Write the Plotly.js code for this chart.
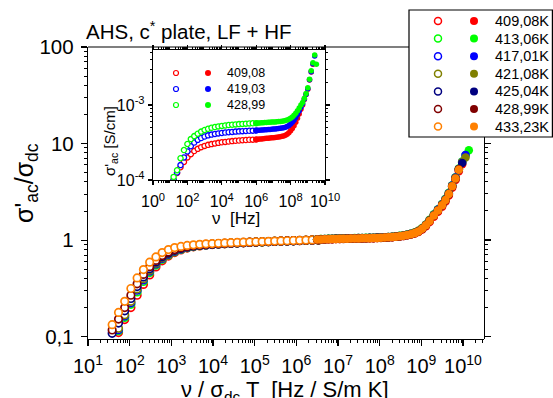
<!DOCTYPE html>
<html><head><meta charset="utf-8">
<script src="https://cdn.plot.ly/plotly-3.0.1.min.js"></script>
<style>html,body{margin:0;padding:0;background:#fff;}#plot{width:553px;height:398px;}</style>
</head><body><div id="plot"></div>
<script>
// ---------------- DATA ----------------
const mainTemps = ['409,08K','413,06K','417,01K','421,08K','425,04K','428,99K','433,23K'];
const mainColors = ['#ff0000','#00ff00','#0000ff','#808000','#000080','#800000','#ff8000'];

// main plot, low-frequency (open) part: x = nu / sigma_dc T
const mainLFx = [38,54,76,107,151,214,302,427,603,851,1200,1700,2400,3390,4790,6760,9550,13500,19100,26900,38000,53700,75900,107000,151000,214000,302000,427000,603000,851000,1.2e6,1.7e6,2.4e6,3.39e6];
const mainLF409 = [null,0.11,0.15,0.2,0.268,0.347,0.435,0.527,0.61,0.683,0.742,0.789,0.825,0.851,0.87,0.885,0.897,0.907,0.915,0.923,0.93,0.937,0.943,0.949,0.955,0.961,0.966,0.971,0.976,0.981,0.986,0.991,0.996,1.001];
const mainLF413 = [null,0.115,0.158,0.216,0.29,0.372,0.46,0.55,0.632,0.7,0.755,0.799,0.832,0.856,0.874,0.888,0.899,0.909,0.917,0.925,0.932,0.938,0.944,0.95,0.956,0.962,0.967,0.972,0.977,0.982,0.987,0.992,0.997,1.002];
const mainLF417 = [null,0.118,0.163,0.224,0.302,0.386,0.476,0.566,0.646,0.712,0.765,0.807,0.838,0.861,0.878,0.891,0.902,0.911,0.919,0.927,0.934,0.94,0.946,0.952,0.958,0.963,0.968,0.973,0.978,0.983,0.988,0.993,0.998,1.003];
const mainLF421 = [null,0.122,0.168,0.232,0.312,0.398,0.488,0.578,0.657,0.721,0.773,0.813,0.843,0.864,0.881,0.894,0.904,0.913,0.921,0.928,0.935,0.941,0.947,0.953,0.959,0.964,0.969,0.974,0.979,0.984,0.989,0.994,0.999,1.004];
const mainLF425 = [0.108,0.138,0.185,0.248,0.33,0.415,0.505,0.593,0.67,0.732,0.782,0.82,0.848,0.868,0.884,0.896,0.906,0.915,0.922,0.929,0.936,0.942,0.948,0.954,0.96,0.965,0.97,0.975,0.98,0.985,0.99,0.995,1.0,1.005];
const mainLF429 = [0.117,0.152,0.2,0.268,0.352,0.44,0.53,0.615,0.69,0.75,0.797,0.832,0.857,0.876,0.89,0.901,0.91,0.918,0.925,0.932,0.938,0.944,0.95,0.955,0.961,0.966,0.971,0.976,0.981,0.986,0.991,0.996,1.001,1.006];
const mainLF433 = [0.133,0.178,0.232,0.315,0.405,0.495,0.59,0.668,0.742,0.797,0.835,0.86,0.879,0.893,0.904,0.913,0.92,0.927,0.933,0.939,0.945,0.95,0.955,0.96,0.965,0.97,0.975,0.979,0.984,0.989,0.994,0.999,1.004,1.009];

// main plot, high-frequency (filled) part
const mainHFx = [3.16e6,3.89e6,4.79e6,5.89e6,7.24e6,8.91e6,1.10e7,1.35e7,1.66e7,2.04e7,2.51e7,3.09e7,3.80e7,4.68e7,5.75e7,7.08e7,8.71e7,1.07e8,1.32e8,1.62e8,2.00e8,2.45e8,3.02e8,3.72e8,4.57e8,5.62e8,6.92e8,8.51e8,1.05e9,1.29e9,1.58e9,2.00e9,2.51e9,3.16e9,3.80e9,4.57e9,5.50e9,6.61e9,7.94e9,9.55e9,1.15e10,1.38e10];
const mainHF409 = [1.01,1.013,1.016,1.019,1.022,1.025,1.028,1.03,1.032,1.034,1.036,1.038,1.04,1.042,1.044,1.047,1.05,1.054,1.059,1.065,1.072,1.08,1.09,1.103,1.12,1.142,1.17,1.215,1.29,1.39,1.54,1.74,1.96,2.22,2.51,2.9,3.48,4.2,5.15,6.1,null,null];
const mainHF413 = [1.02,1.024,1.027,1.03,1.033,1.036,1.039,1.042,1.044,1.046,1.048,1.05,1.052,1.054,1.056,1.059,1.062,1.066,1.071,1.077,1.085,1.094,1.106,1.12,1.14,1.165,1.2,1.25,1.33,1.45,1.62,1.85,2.09,2.37,2.68,3.09,3.7,4.48,5.5,6.5,7.6,8.5];
const mainHF417 = [1.018,1.022,1.025,1.028,1.031,1.034,1.037,1.04,1.042,1.044,1.046,1.048,1.05,1.052,1.054,1.057,1.06,1.064,1.069,1.075,1.082,1.091,1.102,1.116,1.135,1.16,1.19,1.24,1.32,1.44,1.6,1.83,2.07,2.35,2.65,3.06,3.67,4.44,5.45,6.45,7.6,null];
const mainHF421 = [1.019,1.023,1.026,1.029,1.032,1.035,1.038,1.041,1.043,1.045,1.047,1.049,1.051,1.053,1.055,1.058,1.061,1.065,1.07,1.076,1.083,1.092,1.104,1.118,1.137,1.162,1.195,1.245,1.325,1.445,1.61,1.82,2.05,2.33,2.63,3.03,3.64,4.4,5.4,6.4,7.15,null];
const mainHF425 = [1.014,1.017,1.02,1.023,1.026,1.029,1.032,1.034,1.036,1.038,1.04,1.042,1.044,1.046,1.048,1.051,1.054,1.058,1.063,1.069,1.076,1.085,1.096,1.11,1.128,1.152,1.183,1.233,1.313,1.425,1.585,1.8,2.03,2.3,2.6,3.0,3.6,4.35,5.35,6.3,null,null];
const mainHF429 = [1.008,1.011,1.014,1.017,1.02,1.023,1.026,1.028,1.03,1.032,1.034,1.036,1.038,1.04,1.042,1.045,1.048,1.052,1.057,1.063,1.07,1.079,1.09,1.104,1.122,1.146,1.176,1.225,1.305,1.415,1.575,1.79,2.02,2.29,2.59,2.98,3.58,4.33,5.4,null,null,null];
const mainHF433 = [1.012,1.015,1.018,1.021,1.024,1.027,1.03,1.032,1.034,1.036,1.038,1.04,1.042,1.044,1.046,1.049,1.052,1.056,1.061,1.067,1.074,1.083,1.094,1.108,1.126,1.15,1.18,1.23,1.31,1.42,1.58,1.8,2.03,2.3,2.6,3.0,3.6,4.35,5.35,null,null,null];

// inset: sigma'_ac [S/cm] vs nu [Hz]
const insetTemps = ['409,08','419,03','428,99'];
const insetColors = ['#ff0000','#0000ff','#00ff00'];
const insetLFx = [15.8,25.1,39.8,63.1,100,158,251,398,631,1000,1585,2512,3981,6310,1e4,1.58e4,2.51e4,3.98e4,6.31e4,1e5,1.58e5,2.51e5,3.98e5,6.31e5,1e6];
const insetLF409 = [1.0e-4,1.24e-4,1.48e-4,1.74e-4,2.0e-4,2.21e-4,2.43e-4,2.6e-4,2.74e-4,2.85e-4,2.94e-4,3.01e-4,3.07e-4,3.13e-4,3.18e-4,3.22e-4,3.26e-4,3.3e-4,3.33e-4,3.36e-4,3.39e-4,3.41e-4,3.44e-4,3.45e-4,3.47e-4];
const insetLF419 = [1.0e-4,1.26e-4,1.58e-4,2.0e-4,2.4e-4,2.82e-4,3.16e-4,3.43e-4,3.63e-4,3.8e-4,3.94e-4,4.03e-4,4.11e-4,4.18e-4,4.24e-4,4.29e-4,4.34e-4,4.38e-4,4.42e-4,4.45e-4,4.48e-4,4.51e-4,4.53e-4,4.55e-4,4.57e-4];
const insetLF429 = [1.1e-4,1.35e-4,1.95e-4,2.51e-4,3.02e-4,3.51e-4,3.85e-4,4.14e-4,4.42e-4,4.65e-4,4.82e-4,4.97e-4,5.08e-4,5.18e-4,5.26e-4,5.33e-4,5.4e-4,5.46e-4,5.51e-4,5.56e-4,5.6e-4,5.64e-4,5.68e-4,5.7e-4,5.73e-4];
const insetHFx = [1.0e6,1.26e6,1.58e6,2.0e6,2.51e6,3.16e6,3.98e6,5.01e6,6.31e6,7.94e6,1e7,1.26e7,1.58e7,2.0e7,2.51e7,3.16e7,3.98e7,5.01e7,6.31e7,7.94e7,1e8,1.26e8,1.58e8,2.0e8,2.51e8,3.16e8,3.98e8,5.01e8,6.31e8,7.94e8,1e9,1.26e9,1.58e9,2.0e9,2.51e9,3.16e9];
const insetHF409 = [3.47e-4,3.49e-4,3.51e-4,3.53e-4,3.55e-4,3.57e-4,3.59e-4,3.61e-4,3.63e-4,3.65e-4,3.67e-4,3.7e-4,3.72e-4,3.75e-4,3.78e-4,3.82e-4,3.87e-4,3.95e-4,4.08e-4,4.27e-4,4.52e-4,4.85e-4,5.3e-4,5.9e-4,6.65e-4,7.6e-4,8.75e-4,1.0e-3,1.18e-3,1.38e-3,1.62e-3,2.15e-3,2.75e-3,3.5e-3,null,null];
const insetHF419 = [4.57e-4,4.59e-4,4.61e-4,4.63e-4,4.65e-4,4.67e-4,4.69e-4,4.71e-4,4.73e-4,4.75e-4,4.77e-4,4.79e-4,4.82e-4,4.85e-4,4.88e-4,4.92e-4,4.97e-4,5.05e-4,5.17e-4,5.34e-4,5.57e-4,5.87e-4,6.27e-4,6.8e-4,7.45e-4,8.3e-4,9.3e-4,1.04e-3,1.2e-3,1.39e-3,1.64e-3,2.17e-3,2.78e-3,3.55e-3,4.5e-3,null];
const insetHF429 = [5.73e-4,5.75e-4,5.77e-4,5.79e-4,5.81e-4,5.83e-4,5.85e-4,5.87e-4,5.89e-4,5.91e-4,5.93e-4,5.95e-4,5.98e-4,6.01e-4,6.04e-4,6.08e-4,6.13e-4,6.2e-4,6.3e-4,6.45e-4,6.65e-4,6.92e-4,7.28e-4,7.75e-4,8.35e-4,9.1e-4,1.0e-3,1.08e-3,1.23e-3,1.42e-3,1.7e-3,2.2e-3,2.85e-3,3.65e-3,4.65e-3,3.5e-3];

// tick labels
const mainXTickVals = [1e1,1e2,1e3,1e4,1e5,1e6,1e7,1e8,1e9,1e10];
const mainXTickText = ['10<sup>1</sup>','10<sup>2</sup>','10<sup>3</sup>','10<sup>4</sup>','10<sup>5</sup>','10<sup>6</sup>','10<sup>7</sup>','10<sup>8</sup>','10<sup>9</sup>','10<sup>10</sup>'];
const mainYTickVals = [0.1,1,10,100];
const mainYTickText = ['0,1','1','10','100'];
const insetXTickVals = [1,1e2,1e4,1e6,1e8,1e10];
const insetXTickText = ['10<sup>0</sup>','10<sup>2</sup>','10<sup>4</sup>','10<sup>6</sup>','10<sup>8</sup>','10<sup>10</sup>'];
const insetYTickVals = [1e-4,1e-3];
const insetYTickText = ['10<sup>-4</sup>','10<sup>-3</sup>'];

// ---------------- BUILD ----------------
const W = 553, H = 398;
const px = v => v / W;
const py = v => 1 - v / H;
const FONT = 'Arial, "Liberation Sans", sans-serif';

function minors(lo, hi) {
  const out = [];
  for (let e = lo; e <= hi; e++) for (let k = 2; k <= 9; k++) out.push(k * Math.pow(10, e));
  return out;
}

const mainLFy = [mainLF409, mainLF413, mainLF417, mainLF421, mainLF425, mainLF429, mainLF433];
const mainHFy = [mainHF409, mainHF413, mainHF417, mainHF421, mainHF425, mainHF429, mainHF433];
const insetLFy = [insetLF409, insetLF419, insetLF429];
const insetHFy = [insetHF409, insetHF419, insetHF429];

const traces = [];
mainColors.forEach((c, i) => {
  traces.push({type:'scatter', mode:'markers', x: mainLFx, y: mainLFy[i], xaxis:'x', yaxis:'y',
    marker:{symbol:'circle', size:7.5, color:'#ffffff', line:{color:c, width:1.7}}, showlegend:false, hoverinfo:'skip'});
});
mainColors.forEach((c, i) => {
  traces.push({type:'scatter', mode:'markers', x: mainHFx, y: mainHFy[i], xaxis:'x', yaxis:'y',
    marker:{symbol:'circle', size:8.5, color:c, line:{width:0}}, showlegend:false, hoverinfo:'skip'});
});
insetColors.forEach((c, i) => {
  traces.push({type:'scatter', mode:'markers', x: insetLFx, y: insetLFy[i], xaxis:'x2', yaxis:'y2',
    marker:{symbol:'circle', size:5.2, color:'#ffffff', line:{color:c, width:1.3}}, showlegend:false, hoverinfo:'skip'});
  traces.push({type:'scatter', mode:'markers', x: insetHFx, y: insetHFy[i], xaxis:'x2', yaxis:'y2',
    marker:{symbol:'circle', size:5.5, color:c, line:{width:0}}, showlegend:false, hoverinfo:'skip'});
});
// right axis ticks holder
traces.push({type:'scatter', mode:'markers', x:[null], y:[null], xaxis:'x', yaxis:'y4', showlegend:false, hoverinfo:'skip'});

// main legend (drawn in its own hidden axes, pixel-like units)
const annotations = [];
mainColors.forEach((c, i) => {
  const ry = 11 + 17.6 * i;
  traces.push({type:'scatter', mode:'markers', x:[29], y:[ry], xaxis:'x3', yaxis:'y3',
    marker:{symbol:'circle', size:7, color:'#ffffff', line:{color:c, width:1.5}}, showlegend:false, hoverinfo:'skip'});
  traces.push({type:'scatter', mode:'markers', x:[65], y:[ry], xaxis:'x3', yaxis:'y3',
    marker:{symbol:'circle', size:8, color:c, line:{width:0}}, showlegend:false, hoverinfo:'skip'});
  annotations.push({xref:'x3', yref:'y3', x:84, y:ry, text:mainTemps[i], showarrow:false,
    xanchor:'left', yanchor:'middle', font:{family:FONT, size:14.5, color:'#000'}});
});
insetColors.forEach((c, i) => {
  const ry = 73 + 16 * i;
  traces.push({type:'scatter', mode:'markers', x:[176], y:[ry], xaxis:'x5', yaxis:'y5',
    marker:{symbol:'circle', size:5, color:'#ffffff', line:{color:c, width:1.2}}, showlegend:false, hoverinfo:'skip'});
  traces.push({type:'scatter', mode:'markers', x:[208], y:[ry], xaxis:'x5', yaxis:'y5',
    marker:{symbol:'circle', size:6, color:c, line:{width:0}}, showlegend:false, hoverinfo:'skip'});
  annotations.push({xref:'x5', yref:'y5', x:225, y:ry, text:insetTemps[i], showarrow:false,
    xanchor:'left', yanchor:'middle', font:{family:FONT, size:12.5, color:'#000'}});
});

// axis titles
annotations.push({xref:'paper', yref:'paper', x:px(26), y:py(183), text:"σ'<sub>ac</sub>/σ<sub>dc</sub>", textangle:-90,
  showarrow:false, xanchor:'center', yanchor:'middle', font:{family:FONT, size:25, color:'#000'}});
annotations.push({xref:'paper', yref:'paper', x:px(285), y:py(391), text:"ν / σ<sub>dc</sub> T \u00a0[Hz / S/m K]",
  showarrow:false, xanchor:'center', yanchor:'middle', font:{family:FONT, size:22, color:'#000'}});
annotations.push({xref:'paper', yref:'paper', x:px(111), y:py(141), text:"σ'<sub>ac</sub> [S/cm]", textangle:-90,
  showarrow:false, xanchor:'center', yanchor:'middle', font:{family:FONT, size:15, color:'#000'}});
annotations.push({xref:'paper', yref:'paper', x:px(236), y:py(218), text:"ν \u00a0[Hz]",
  showarrow:false, xanchor:'center', yanchor:'middle', font:{family:FONT, size:17, color:'#000'}});

const axBase = {showgrid:false, zeroline:false, showline:true, linecolor:'#000', linewidth:1.2,
  ticks:'outside', tickcolor:'#000', tickwidth:1.1, tickmode:'array'};

const layout = {
  width: W, height: H,
  margin: {l:0, r:0, t:0, b:0, pad:0},
  paper_bgcolor:'#fff', plot_bgcolor:'rgba(0,0,0,0)',
  font: {family: FONT, color:'#000'},
  showlegend: false,
  title: {text:'AHS, c<sup>*</sup> plate, LF + HF', xref:'paper', x:px(86), xanchor:'left',
    yref:'container', y:py(32), yanchor:'middle', font:{family:FONT, size:20.5, color:'#000'}},
  xaxis: Object.assign({}, axBase, {type:'log', range:[1, 10.504], domain:[px(88), px(484)], anchor:'y',
    tickvals: mainXTickVals, ticktext: mainXTickText, ticklen:6, tickfont:{size:20}, ticklabelstandoff:3,
    minor:{tickmode:'array', tickvals: minors(1, 10), ticks:'outside', ticklen:3, tickcolor:'#000', tickwidth:1, showgrid:false}}),
  yaxis: Object.assign({}, axBase, {type:'log', range:[-1.025, 2], domain:[py(339), py(47)], anchor:'x',
    tickvals: mainYTickVals, ticktext: mainYTickText, ticklen:6, tickfont:{size:20.5}, ticklabelstandoff:3,
    minor:{tickmode:'array', tickvals: minors(-1, 1), ticks:'outside', ticklen:3, tickcolor:'#000', tickwidth:1, showgrid:false}}),
  yaxis4: Object.assign({}, axBase, {type:'log', range:[-1.025, 1.066], domain:[py(339), py(137)], anchor:'free',
    position: px(484), side:'right', tickvals: mainYTickVals, ticktext: mainYTickText, ticklen:6, showticklabels:false,
    minor:{tickmode:'array', tickvals: minors(-1, 1), ticks:'outside', ticklen:3, tickcolor:'#000', tickwidth:1, showgrid:false}}),
  xaxis2: Object.assign({}, axBase, {type:'log', range:[0, 10], domain:[px(153), px(325)], anchor:'y2', mirror:'allticks',
    tickvals: insetXTickVals, ticktext: insetXTickText, ticklen:4, tickfont:{size:16}, ticklabelstandoff:3,
    minor:{tickmode:'array', tickvals: minors(0, 9), ticks:'outside', ticklen:2, tickcolor:'#000', tickwidth:1, showgrid:false}}),
  yaxis2: Object.assign({}, axBase, {type:'log', range:[-4, -2.267], domain:[py(180), py(50)], anchor:'x2', mirror:'allticks',
    tickvals: insetYTickVals, ticktext: insetYTickText, ticklen:4, tickfont:{size:16}, ticklabelstandoff:0,
    minor:{tickmode:'array', tickvals: minors(-4, -3), ticks:'outside', ticklen:2, tickcolor:'#000', tickwidth:1, showgrid:false}}),
  xaxis3: {domain:[px(409), 1], range:[0, 144], visible:false, anchor:'y3', fixedrange:true},
  yaxis3: {domain:[py(137), py(10)], range:[127, 0], visible:false, anchor:'x3', fixedrange:true},
  xaxis5: {domain:[px(160), px(280)], range:[160, 280], visible:false, anchor:'y5', fixedrange:true},
  yaxis5: {domain:[py(115), py(62)], range:[115, 62], visible:false, anchor:'x5', fixedrange:true},
  shapes: [
    {type:'rect', xref:'paper', yref:'paper', x0:px(409), x1:px(552.4), y0:py(137), y1:py(10),
      line:{color:'#000', width:1.2}, fillcolor:'#fff', layer:'below'},
    {type:'line', xref:'paper', yref:'paper', x0:px(88), x1:px(409), y0:py(47), y1:py(47),
      line:{color:'#000', width:1.2}}
  ],
  annotations: annotations
};

Plotly.newPlot('plot', traces, layout, {displayModeBar:false, staticPlot:true});
</script>
</body></html>
